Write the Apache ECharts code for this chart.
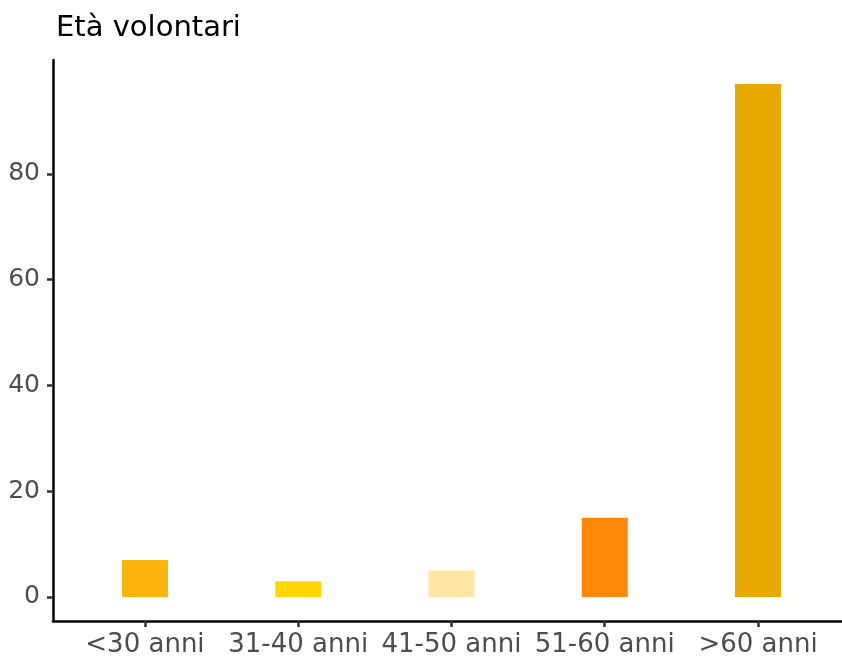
<!DOCTYPE html>
<html>
<head>
<meta charset="utf-8">
<script src="https://cdn.jsdelivr.net/npm/echarts@6/dist/echarts.min.js"></script>
<style>
html, body { margin: 0; padding: 0; background: #fff; }
#main { width: 842px; height: 659px; }
</style>
</head>
<body>
<div id="main"></div>
<script>
// dati
var categories = ['<30 anni', '31-40 anni', '41-50 anni', '51-60 anni', '>60 anni'];
var values = [7, 3, 5, 15, 97];
var barColors = ['#FDB50D', '#FFD700', '#FFE6A2', '#FF8707', '#E8AA00'];
var yTicks = [0, 20, 40, 60, 80];
var xPos = [1, 2, 3, 4, 5];

var myChart = echarts.init(document.getElementById('main'));

var seriesData = values.map(function (v, i) {
    return { value: [xPos[i], v], itemStyle: { color: barColors[i] } };
});

var option = {
    animation: false,
    title: {
        text: 'Età volontari',
        left: 51,
        top: 9,
        textStyle: {
            fontFamily: 'DejaVu Sans',
            fontSize: 29,
            fontWeight: 'normal',
            color: '#000'
        }
    },
    grid: {
        left: 53,
        right: 0,
        top: 60,
        bottom: 38,
        containLabel: false
    },
    xAxis: {
        type: 'value',
        min: 0.4,
        max: 5.548,
        splitLine: { show: false },
        axisLine: { show: true, onZero: false, lineStyle: { color: '#000', width: 2.5 } },
        axisTick: {
            show: true,
            customValues: xPos,
            length: 6,
            lineStyle: { color: '#333', width: 2.5 }
        },
        axisLabel: {
            customValues: xPos,
            margin: 11,
            fontFamily: 'DejaVu Sans',
            fontSize: 26,
            color: '#4d4d4d',
            formatter: function (v) {
                return categories[Math.round(v) - 1];
            }
        }
    },
    yAxis: {
        type: 'value',
        min: -4.54,
        max: 101.56,
        splitLine: { show: false },
        axisLine: { show: true, onZero: false, lineStyle: { color: '#000', width: 2.5 } },
        axisTick: {
            show: true,
            customValues: yTicks,
            length: 6,
            lineStyle: { color: '#333', width: 2.5 }
        },
        axisLabel: {
            customValues: yTicks,
            margin: 13,
            fontFamily: 'DejaVu Sans',
            fontSize: 25,
            color: '#4d4d4d'
        }
    },
    series: [
        {
            type: 'bar',
            barWidth: 46,
            data: seriesData
        }
    ]
};

myChart.setOption(option);
</script>
</body>
</html>
